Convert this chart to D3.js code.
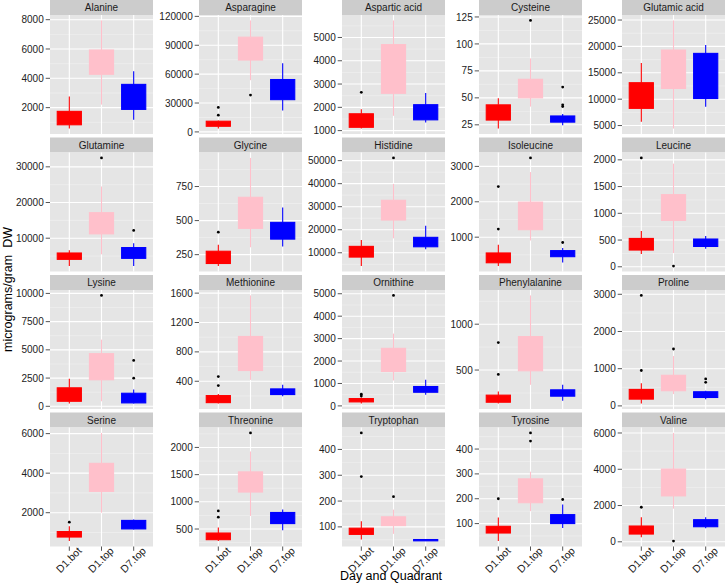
<!DOCTYPE html>
<html>
<head>
<meta charset="utf-8">
<script src="https://cdn.jsdelivr.net/npm/d3@7"></script>
<style>
  html, body { margin: 0; padding: 0; background: #ffffff; }
  svg { display: block; }
  text { font-family: "Liberation Sans", Arial, Helvetica, sans-serif; }
</style>
</head>
<body>
<svg id="chart" width="725" height="583"></svg>
<script>
// ---------------- DATA ----------------
const categories = ["D1.bot", "D1.top", "D7.top"];
const groupColors = ["#FF0000", "#FFC0CB", "#0000FF"];

const aminoAcids = ["Alanine", "Asparagine", "Aspartic acid", "Cysteine", "Glutamic acid",
  "Glutamine", "Glycine", "Histidine", "Isoleucine", "Leucine",
  "Lysine", "Methionine", "Ornithine", "Phenylalanine", "Proline",
  "Serine", "Threonine", "Tryptophan", "Tyrosine", "Valine"];

// box statistics per amino acid: [lower whisker, Q1, Q3, upper whisker]
const d1botStats = [
  [570, 830, 1745, 2760], [3450, 5860, 11100, 11800], [1087, 1143, 1723, 1922],
  [21.5, 29.4, 43.5, 49.6], [5710, 8260, 13120, 16880],
  [2180, 4070, 5850, 6610], [166, 185, 275, 322], [4220, 8130, 12780, 15520],
  [183, 277, 554, 783], [238, 313, 530, 669],
  [240, 445, 1637, 2438], [96, 109, 205, 228], [103, 179, 327, 370],
  [134, 149, 226, 265], [62, 182, 443, 606],
  [564, 769, 1046, 1318], [278, 304, 426, 526], [51, 71, 95, 122],
  [29.5, 62, 89, 124], [244, 427, 870, 1352]
];
const d1topStats = [
  [2207, 4276, 5931, 7950], [53700, 74650, 98400, 115800], [1636, 2602, 4694, 5733],
  [41.9, 50, 67.2, 86.6], [4425, 12030, 19310, 24930],
  [5480, 11210, 17150, 24500], [304, 443, 671, 960], [16260, 24220, 32780, 39870],
  [906, 1211, 1991, 2840], [257, 867, 1349, 1929],
  [445, 2349, 4662, 5908], [419, 546, 1010, 1569], [1133, 1536, 2566, 3224],
  [339, 492, 865, 1314], [317, 408, 823, 1340],
  [2000, 3077, 4497, 6036], [741, 1180, 1550, 1926], [73, 105, 139, 167],
  [150, 184, 280, 309], [1828, 2532, 4011, 6005]
];
const d7topStats = [
  [1172, 1880, 3586, 4483], [22300, 33500, 54400, 71200], [1346, 1463, 2113, 2615],
  [24.7, 27.5, 33.2, 35], [8580, 10120, 18680, 20270],
  [2180, 4350, 7370, 8590], [309, 364, 487, 596], [11480, 12610, 16700, 21740],
  [286, 449, 620, 697], [337, 380, 519, 575],
  [240, 302, 1157, 1486], [195, 219, 296, 351], [493, 609, 864, 1164],
  [164, 215, 284, 339], [182, 226, 380, 408],
  [1150, 1180, 1610, 1660], [476, 600, 804, 859], [45, 46, 51, 52],
  [82, 100, 136, 177], [742, 831, 1219, 1352]
];

// outliers per amino acid
const d1botOutliers = [[], [17400, 25400], [2645], [], [], [], [415], [], [1229, 2429], [2036],
  [], [341, 464], [440, 520], [452, 799], [951, 2970], [1523], [717, 833], [295, 464], [200], [1906]];
const d1topOutliers = [[], [38300], [], [121.8], [], [32500], [], [51180], [3240], [13],
  [9823], [], [4926], [], [1530], [], [2267], [217], [432, 465], [39]];
const d7topOutliers = [[], [], [], [41.9, 43.5, 60], [], [12180], [], [], [849], [],
  [2491, 4066], [], [], [], [633, 725], [], [], [], [197], []];

// y tick labels per panel
const yTicks = [
  [2000, 4000, 6000, 8000], [0, 30000, 60000, 90000, 120000], [1000, 2000, 3000, 4000, 5000],
  [25, 50, 75, 100, 125], [5000, 10000, 15000, 20000, 25000],
  [10000, 20000, 30000], [250, 500, 750], [10000, 20000, 30000, 40000, 50000],
  [1000, 2000, 3000], [0, 500, 1000, 1500, 2000],
  [0, 2500, 5000, 7500, 10000], [400, 800, 1200, 1600], [0, 1000, 2000, 3000, 4000, 5000],
  [500, 1000], [0, 1000, 2000, 3000],
  [2000, 4000, 6000], [500, 1000, 1500, 2000], [100, 200, 300, 400],
  [100, 200, 300, 400], [0, 2000, 4000, 6000]
];

const xTitle = "Day and Quadrant";
const yTitle = "micrograms/gram  DW";

// ---------------- LAYOUT ----------------
const svg = d3.select("#chart");
const colLeft = [50, 199, 342, 479, 622];
const rowTop = [0, 137.5, 275, 412.5];
const panelW = 103, panelH = 119, stripH = 15;

const statsByGroup = [d1botStats, d1topStats, d7topStats];
const outByGroup = [d1botOutliers, d1topOutliers, d7topOutliers];

const x = d3.scalePoint().domain(categories).range([0, panelW]).padding(0.6);
const boxW = x.step() * 0.75;

aminoAcids.forEach((name, i) => {
  const col = i % 5, row = Math.floor(i / 5);
  const left = colLeft[col], top = rowTop[row] + stripH;
  const isBottom = row === 3;

  // data range
  let vals = [];
  statsByGroup.forEach((s, g) => { vals.push(...s[i]); vals.push(...outByGroup[g][i]); });
  const mn = d3.min(vals), mx = d3.max(vals), r = mx - mn;
  const y = d3.scaleLinear().domain([mn - 0.05 * r, mx + 0.05 * r]).range([panelH, 0]);

  // strip
  const gs = svg.append("g").attr("transform", `translate(${left},${rowTop[row]})`);
  gs.append("rect").attr("width", panelW).attr("height", stripH).attr("fill", "#CCCCCC");
  gs.append("text").attr("x", panelW / 2).attr("y", stripH / 2 + 3.6)
    .attr("text-anchor", "middle").attr("font-size", "10px").attr("fill", "#1A1A1A").text(name);

  const g = svg.append("g").attr("transform", `translate(${left},${top})`);
  g.append("rect").attr("width", panelW).attr("height", panelH).attr("fill", "#E5E5E5");

  // minor grid
  const ticks = yTicks[i];
  const step = ticks.length > 1 ? ticks[1] - ticks[0] : ticks[0];
  const dom = y.domain();
  const minors = [];
  for (let k = 0; k <= ticks.length; k++) {
    const v = (k === 0 ? ticks[0] - step / 2 : ticks[k - 1] + step / 2);
    if (v >= dom[0] && v <= dom[1]) minors.push(v);
  }
  g.selectAll(".minor").data(minors).enter().append("line")
    .attr("x1", 0).attr("x2", panelW).attr("y1", d => y(d)).attr("y2", d => y(d))
    .attr("stroke", "#F2F2F2").attr("stroke-width", 0.6);
  g.selectAll(".major").data(ticks).enter().append("line")
    .attr("x1", 0).attr("x2", panelW).attr("y1", d => y(d)).attr("y2", d => y(d))
    .attr("stroke", "#FFFFFF").attr("stroke-width", 1.1);
  g.selectAll(".vmajor").data(categories).enter().append("line")
    .attr("x1", d => x(d)).attr("x2", d => x(d)).attr("y1", 0).attr("y2", panelH)
    .attr("stroke", "#FFFFFF").attr("stroke-width", 1.1);

  // boxes
  categories.forEach((c, gi) => {
    const [lo, q1, q3, hi] = statsByGroup[gi][i];
    const cx = x(c), col = groupColors[gi];
    g.append("line").attr("x1", cx).attr("x2", cx).attr("y1", y(hi)).attr("y2", y(q3))
      .attr("stroke", col).attr("stroke-width", 1.1);
    g.append("line").attr("x1", cx).attr("x2", cx).attr("y1", y(q1)).attr("y2", y(lo))
      .attr("stroke", col).attr("stroke-width", 1.1);
    g.append("rect").attr("x", cx - boxW / 2).attr("width", boxW)
      .attr("y", y(q3)).attr("height", Math.max(0.5, y(q1) - y(q3)))
      .attr("fill", col).attr("stroke", col).attr("stroke-width", 1.1);
    g.selectAll(null).data(outByGroup[gi][i]).enter().append("circle")
      .attr("cx", cx).attr("cy", d => y(d)).attr("r", 1.4).attr("fill", "#000000");
  });

  // y axis
  const ya = g.append("g");
  ya.selectAll("line").data(ticks).enter().append("line")
    .attr("x1", -4.3).attr("x2", 0).attr("y1", d => y(d)).attr("y2", d => y(d))
    .attr("stroke", "#555555").attr("stroke-width", 1);
  ya.selectAll("text").data(ticks).enter().append("text")
    .attr("x", -6.3).attr("y", d => y(d) + 3.6).attr("text-anchor", "end")
    .attr("font-size", "10px").attr("fill", "#222222").text(d => d);

  // x axis (only bottom row)
  if (isBottom) {
    const xa = g.append("g").attr("transform", `translate(0,${panelH})`);
    xa.selectAll("line").data(categories).enter().append("line")
      .attr("x1", d => x(d)).attr("x2", d => x(d)).attr("y1", 0).attr("y2", 4.3)
      .attr("stroke", "#555555").attr("stroke-width", 1);
    xa.selectAll("text").data(categories).enter().append("text")
      .attr("transform", d => `translate(${x(d) + 13},${5}) rotate(-45)`)
      .attr("text-anchor", "end").attr("font-size", "10.5px").attr("fill", "#222222").text(d => d);
  }
});

// axis titles
svg.append("text").attr("x", 391).attr("y", 580).attr("text-anchor", "middle")
  .attr("font-size", "12.5px").attr("fill", "#000000").text(xTitle);
svg.append("text").attr("transform", "translate(11.5,289.5) rotate(-90)")
  .attr("text-anchor", "middle").attr("font-size", "12.5px").attr("fill", "#000000")
  .style("white-space", "pre").text(yTitle);
</script>
</body>
</html>
